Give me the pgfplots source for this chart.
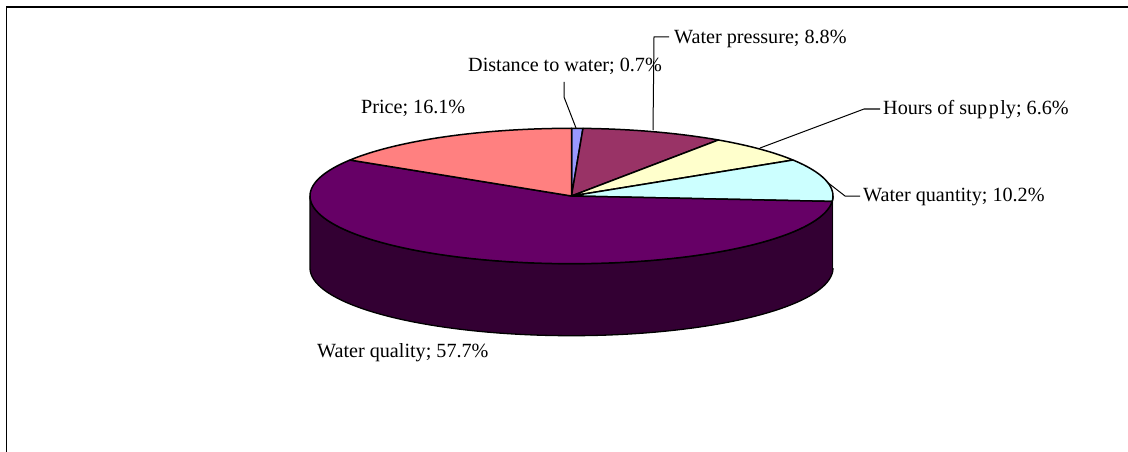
\documentclass[border=0pt]{standalone}
\usepackage{pgfplots}
\usepackage{pgfplotstable}
\usepackage{fontspec}
\setmainfont{Liberation Serif}
\pgfplotsset{compat=1.18}

% Shares of the pie, clockwise from twelve o'clock
\pgfplotstableread{
row share
0 0.7
1 8.8
2 6.6
3 10.2
4 57.7
5 16.1
}\sharetable
\def\sharetotal{100.1}

\definecolor{slice0}{HTML}{9999FF}
\definecolor{slice1}{HTML}{993366}
\definecolor{slice2}{HTML}{FFFFCC}
\definecolor{slice3}{HTML}{CCFFFF}
\definecolor{slice4}{HTML}{660066}
\definecolor{slice5}{HTML}{FF8080}

% Disc geometry on the pixel-sized axis
\def\cx{571.5}\def\cy{196}\def\ra{261.5}\def\rb{67.7}\def\depth{72}

% Collects rim points from angle #1 to #2 into \rimpts, shifted down by #3
\newcommand{\addrim}[3]{%
  \pgfmathtruncatemacro\nsteps{max(2,abs(#2-#1)/1.5)}%
  \foreach \k in {0,...,\nsteps}{%
    \pgfmathsetmacro\ang{#1+(#2-#1)/\nsteps*\k}%
    \pgfmathsetmacro\px{\cx+\ra*sin(\ang)}%
    \pgfmathsetmacro\py{\cy-\rb*cos(\ang)+#3}%
    \xdef\rimpts{\rimpts (\px,\py)}%
  }%
}
\newcommand{\topslice}[3]{%
  \xdef\rimpts{(\cx,\cy)}%
  \addrim{#2}{#3}{0}%
  \xdef\rimpts{\rimpts (\cx,\cy)}%
  \edef\plotcmd{\noexpand\addplot[fill=#1,draw=black,line width=1.5pt,line join=round] coordinates {\rimpts};}%
  \plotcmd
}
\newcommand{\sidewall}[3]{%
  \xdef\rimpts{}%
  \addrim{#2}{#3}{0}%
  \addrim{#3}{#2}{\depth}%
  \edef\plotcmd{\noexpand\addplot[fill=#1!50!black,draw=black,line width=1.3pt,line join=round] coordinates {\rimpts};}%
  \plotcmd
}
\newcommand{\lbl}[3]{\node[anchor=west,inner sep=0pt,text=black] at (axis cs:#1,#2) {\fontsize{20.15}{22}\selectfont #3};}

\begin{document}
\begin{tikzpicture}
\useasboundingbox (0,0) rectangle (1128pt,452pt);
\begin{axis}[
  at={(0,0)}, anchor=south west,
  hide axis, scale only axis, width=1128pt, height=452pt,
  xmin=0, xmax=1128, ymin=0, ymax=452, y dir=reverse,
  no markers, clip=true,
]
% outer frame, open towards the right and the bottom
\addplot[black, line width=1.4pt] coordinates {(6.5,452) (6.5,7) (1128,7)};

% side wall of the front half of the disc
\xdef\cum{0}
\pgfplotsforeachungrouped \i in {0,...,5}{%
  \pgfplotstablegetelem{\i}{share}\of\sharetable
  \pgfmathsetmacro\angA{\cum/\sharetotal*360}%
  \pgfmathsetmacro\newcum{\cum+\pgfplotsretval}\xdef\cum{\newcum}%
  \pgfmathsetmacro\angB{\cum/\sharetotal*360}%
  \pgfmathsetmacro\sideA{max(\angA,90)}%
  \pgfmathsetmacro\sideB{min(\angB,270)}%
  \pgfmathtruncatemacro\visible{\sideA<\sideB ? 1 : 0}%
  \ifnum\visible=1 \sidewall{slice\i}{\sideA}{\sideB}\fi
}
% top face
\xdef\cum{0}
\pgfplotsforeachungrouped \i in {0,...,5}{%
  \pgfplotstablegetelem{\i}{share}\of\sharetable
  \pgfmathsetmacro\angA{\cum/\sharetotal*360}%
  \pgfmathsetmacro\newcum{\cum+\pgfplotsretval}\xdef\cum{\newcum}%
  \pgfmathsetmacro\angB{\cum/\sharetotal*360}%
  \topslice{slice\i}{\angA}{\angB}%
}

% leader lines
\addplot[black, line width=1pt] coordinates {(564,82) (564,97) (576,128)};
\addplot[black, line width=1pt] coordinates {(669,37) (654,37) (653,130)};
\addplot[black, line width=1pt] coordinates {(880,109) (864,109) (760,148)};
\addplot[black, line width=1pt] coordinates {(860,196) (845,196) (827,182)};

% slice labels
\lbl{468}{66}{Distance to water; 0.7\%}
\lbl{674}{39}{Water pressure; 8.8\%}
\lbl{361}{108}{Price; 16.1\%}
\lbl{883}{110}{Hours of sup\kern1.5pt p\kern1.5pt ly; 6.6\%}
\lbl{863}{197}{Water quantity; 10.2\%}
\lbl{317}{353}{Water quality; 57.7\%}
\end{axis}
\end{tikzpicture}
\end{document}
